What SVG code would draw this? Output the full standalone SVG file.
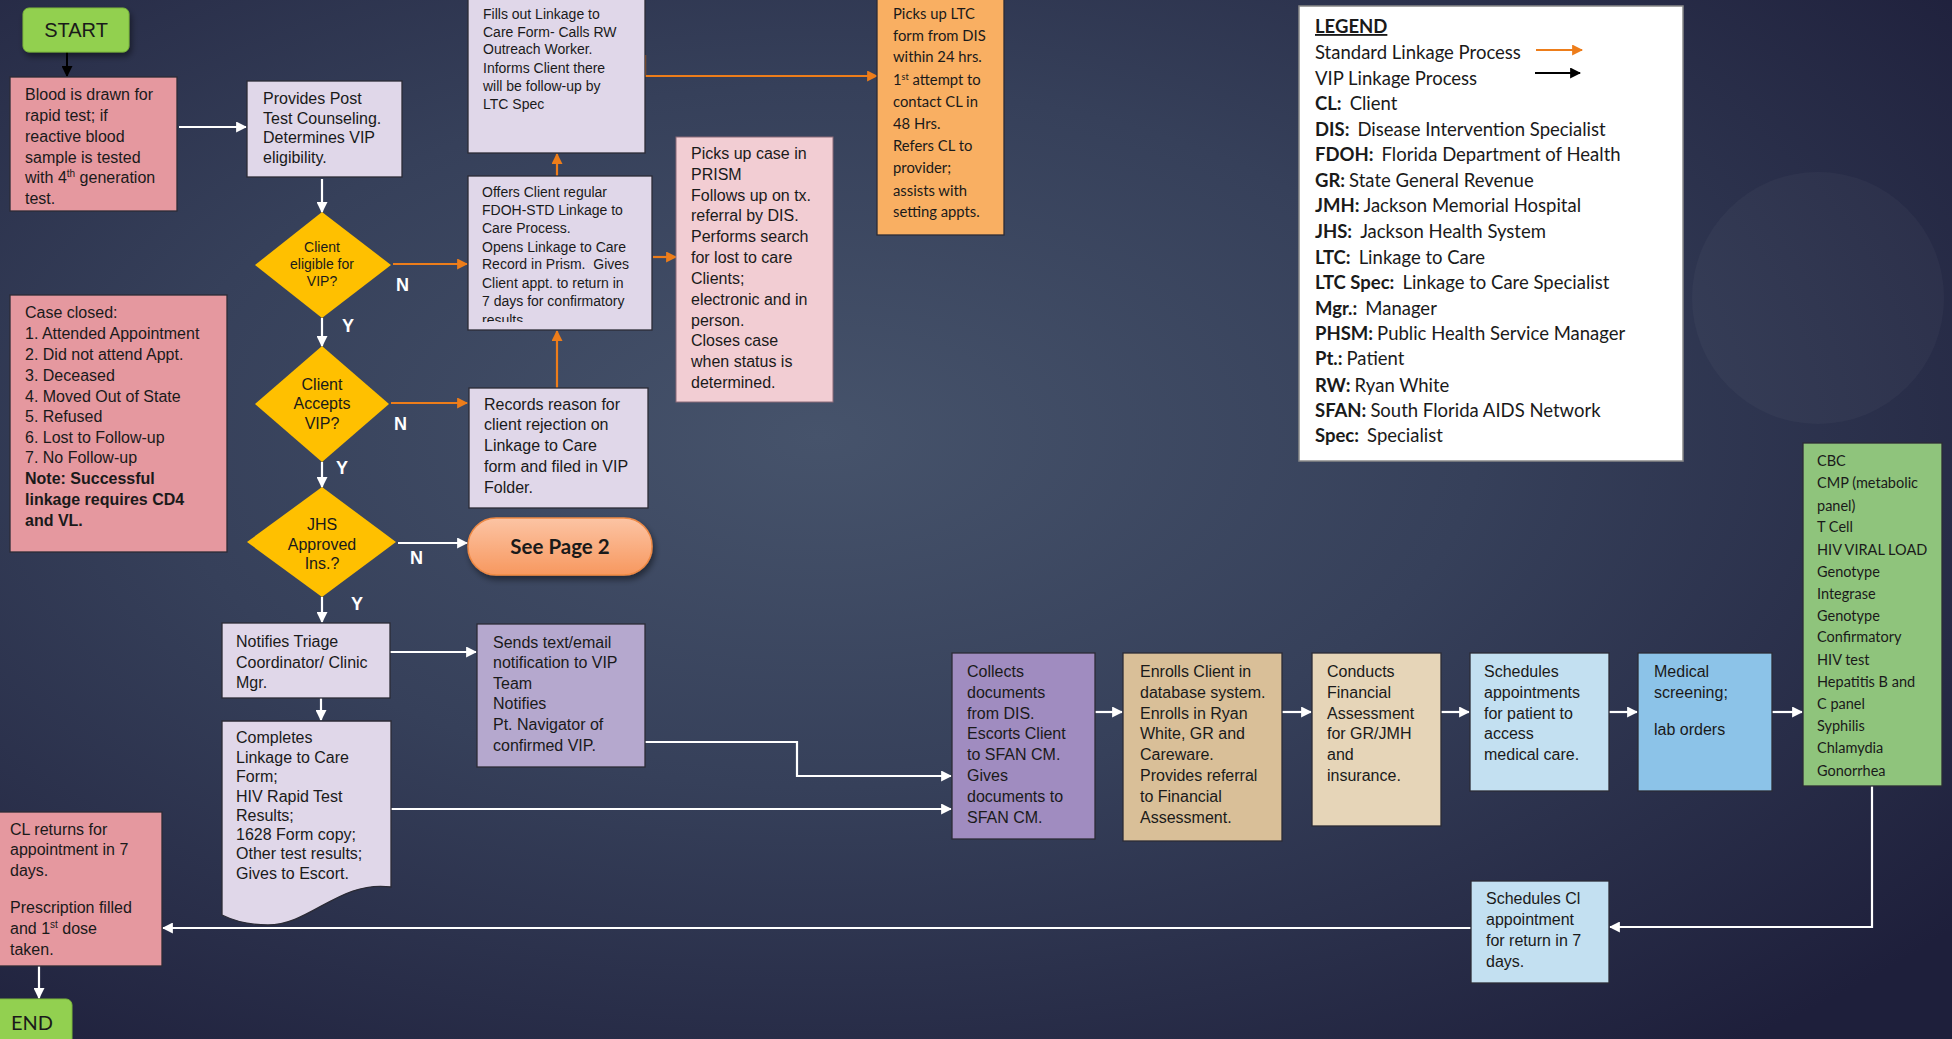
<svg xmlns="http://www.w3.org/2000/svg" width="1952" height="1039" viewBox="0 0 1952 1039">
<defs>
<radialGradient id="bg" cx="0.42" cy="0.42" r="0.75" fx="0.42" fy="0.42">
<stop offset="0" stop-color="#46536b"/>
<stop offset="0.45" stop-color="#36405a"/>
<stop offset="1" stop-color="#1e1f3b"/>
</radialGradient>
<linearGradient id="pill" x1="0" y1="0" x2="0" y2="1">
<stop offset="0" stop-color="#fcc4a4"/>
<stop offset="1" stop-color="#f7985f"/>
</linearGradient>
<filter id="sh" x="-20%" y="-20%" width="140%" height="150%">
<feDropShadow dx="2" dy="4" stdDeviation="3" flood-color="#000" flood-opacity="0.45"/>
</filter>
<marker id="aw" viewBox="0 0 10 10" refX="9" refY="5" markerWidth="11" markerHeight="11" markerUnits="userSpaceOnUse" orient="auto">
<path d="M0,0 L10,5 L0,10 Z" fill="#ffffff"/>
</marker>
<marker id="ao" viewBox="0 0 10 10" refX="9" refY="5" markerWidth="11" markerHeight="11" markerUnits="userSpaceOnUse" orient="auto">
<path d="M0,0 L10,5 L0,10 Z" fill="#ed7d1a"/>
</marker>
<marker id="ak" viewBox="0 0 10 10" refX="9" refY="5" markerWidth="11" markerHeight="11" markerUnits="userSpaceOnUse" orient="auto">
<path d="M0,0 L10,5 L0,10 Z" fill="#000000"/>
</marker>
<clipPath id="offclip"><rect x="468" y="176" width="184" height="146"/></clipPath>
</defs>
<style>
.t{font-family:"Liberation Sans",Arial,sans-serif;font-size:16px;fill:#1a1a1a}
.t14{font-family:"Liberation Sans",Arial,sans-serif;font-size:14px;fill:#1a1a1a;white-space:pre}
.c{font-family:Lato,"Open Sans",sans-serif;fill:#1a1a1a}
.lg{font-family:Lato,"Open Sans",sans-serif;fill:#1a1a1a;font-size:18.5px}
.bx{stroke:#2b2b36;stroke-width:1.3}
.w{stroke:#ffffff;stroke-width:2.2;fill:none}
.o{stroke:#ed7d1a;stroke-width:2.2;fill:none}
.lbl{font-family:"Liberation Sans",Arial,sans-serif;font-size:18px;font-weight:bold;fill:#ffffff}
.b{font-weight:bold}
</style>
<rect x="0" y="0" width="1952" height="1039" fill="url(#bg)"/>
<circle cx="1818" cy="298" r="126" fill="#ffffff" fill-opacity="0.03"/>

<g id="connectors">
<line x1="67" y1="52" x2="67" y2="76" stroke="#000" stroke-width="2" marker-end="url(#ak)"/>
<line class="w" x1="179" y1="127" x2="246" y2="127" marker-end="url(#aw)"/>
<line class="w" x1="322" y1="179" x2="322" y2="212" marker-end="url(#aw)"/>
<line class="o" x1="393" y1="264" x2="467" y2="264" marker-end="url(#ao)"/>
<line class="w" x1="322" y1="318" x2="322" y2="346" marker-end="url(#aw)"/>
<line class="o" x1="391" y1="403" x2="467" y2="403" marker-end="url(#ao)"/>
<line class="w" x1="322" y1="462" x2="322" y2="487" marker-end="url(#aw)"/>
<line class="w" x1="398" y1="543" x2="467" y2="543" marker-end="url(#aw)"/>
<line class="w" x1="322" y1="597" x2="322" y2="622" marker-end="url(#aw)"/>
<line class="o" x1="557" y1="389" x2="557" y2="331" marker-end="url(#ao)"/>
<line class="o" x1="557" y1="176" x2="557" y2="154" marker-end="url(#ao)"/>
<line class="o" x1="653" y1="257" x2="676" y2="257" marker-end="url(#ao)"/>
<path class="o" d="M645,55 V76 H877" marker-end="url(#ao)"/>
<line class="w" x1="390" y1="652" x2="476" y2="652" marker-end="url(#aw)"/>
<line class="w" x1="321" y1="698" x2="321" y2="720" marker-end="url(#aw)"/>
<path class="w" d="M645,742 H797 V776 H951" marker-end="url(#aw)"/>
<line class="w" x1="391" y1="809" x2="951" y2="809" marker-end="url(#aw)"/>
<line class="w" x1="1095" y1="712" x2="1122" y2="712" marker-end="url(#aw)"/>
<line class="w" x1="1282" y1="712" x2="1311" y2="712" marker-end="url(#aw)"/>
<line class="w" x1="1441" y1="712" x2="1469" y2="712" marker-end="url(#aw)"/>
<line class="w" x1="1609" y1="712" x2="1637" y2="712" marker-end="url(#aw)"/>
<line class="w" x1="1772" y1="712" x2="1802" y2="712" marker-end="url(#aw)"/>
<path class="w" d="M1872,786 V927 H1610" marker-end="url(#aw)"/>
<line class="w" x1="1471" y1="928" x2="163" y2="928" marker-end="url(#aw)"/>
<line class="w" x1="39" y1="966" x2="39" y2="998" marker-end="url(#aw)"/>
<text class="lbl" x="396" y="291">N</text>
<text class="lbl" x="342" y="332">Y</text>
<text class="lbl" x="394" y="430">N</text>
<text class="lbl" x="336" y="474">Y</text>
<text class="lbl" x="410" y="564">N</text>
<text class="lbl" x="351" y="610">Y</text>
</g>

<g id="start">
<rect x="23" y="8" width="106" height="44" rx="6" fill="#92d050" stroke="#7cb83a" stroke-width="1" filter="url(#sh)"/>
<text x="76" y="37" text-anchor="middle" style="font-family:'Liberation Sans',Arial,sans-serif;font-size:20px;fill:#1a1a1a">START</text>
</g>

<g id="blood">
<rect class="bx" x="10" y="77" width="167" height="134" fill="#e5989f"/>
<text class="t" x="25" y="100">Blood is drawn for</text>
<text class="t" x="25" y="121">rapid test; if</text>
<text class="t" x="25" y="142">reactive blood</text>
<text class="t" x="25" y="163">sample is tested</text>
<text class="t" x="25" y="183">with 4<tspan dy="-6" font-size="10">th</tspan><tspan dy="6"> generation</tspan></text>
<text class="t" x="25" y="204">test.</text>
</g>

<g id="post-test">
<rect class="bx" x="247" y="81" width="155" height="96" fill="#e0d7e9"/>
<text class="t" x="263" y="104">Provides Post</text>
<text class="t" x="263" y="124">Test Counseling.</text>
<text class="t" x="263" y="143">Determines VIP</text>
<text class="t" x="263" y="163">eligibility.</text>
</g>

<g id="dec-eligible">
<path d="M322,212 L391,265 L322,318 L255,265 Z" fill="#ffc000"/>
<text class="t14" x="322" y="252" text-anchor="middle">Client</text>
<text class="t14" x="322" y="269" text-anchor="middle">eligible for</text>
<text class="t14" x="322" y="286" text-anchor="middle">VIP?</text>
</g>

<g id="dec-accepts">
<path d="M322,346 L389,404 L322,462 L255,404 Z" fill="#ffc000"/>
<text class="t" x="322" y="390" text-anchor="middle">Client</text>
<text class="t" x="322" y="409" text-anchor="middle">Accepts</text>
<text class="t" x="322" y="429" text-anchor="middle">VIP?</text>
</g>

<g id="dec-jhs">
<path d="M322,487 L396,542 L322,597 L247,542 Z" fill="#ffc000"/>
<text class="t" x="322" y="530" text-anchor="middle">JHS</text>
<text class="t" x="322" y="550" text-anchor="middle">Approved</text>
<text class="t" x="322" y="569" text-anchor="middle">Ins.?</text>
</g>

<g id="case-closed">
<rect class="bx" x="10" y="295" width="217" height="257" fill="#e5989f"/>
<text class="t" x="25" y="318">Case closed:</text>
<text class="t" x="25" y="339">1. Attended Appointment</text>
<text class="t" x="25" y="360">2. Did not attend Appt.</text>
<text class="t" x="25" y="381">3. Deceased</text>
<text class="t" x="25" y="402">4. Moved Out of State</text>
<text class="t" x="25" y="422">5. Refused</text>
<text class="t" x="25" y="443">6. Lost to Follow-up</text>
<text class="t" x="25" y="463">7. No Follow-up</text>
<text class="t b" x="25" y="484">Note: Successful</text>
<text class="t b" x="25" y="505">linkage requires CD4</text>
<text class="t b" x="25" y="526">and VL.</text>
</g>

<g id="fills-out">
<rect class="bx" x="468" y="-2" width="177" height="155" fill="#e0d7e9"/>
<text class="t14" x="483" y="19">Fills out Linkage to</text>
<text class="t14" x="483" y="37">Care Form- Calls RW</text>
<text class="t14" x="483" y="54">Outreach Worker.</text>
<text class="t14" x="483" y="73">Informs Client there</text>
<text class="t14" x="483" y="91">will be follow-up by</text>
<text class="t14" x="483" y="109">LTC Spec</text>
</g>

<g id="offers">
<rect class="bx" x="468" y="176" width="184" height="154" fill="#e0d7e9"/>
<g clip-path="url(#offclip)">
<text class="t14" x="482" y="197">Offers Client regular</text>
<text class="t14" x="482" y="215">FDOH-STD Linkage to</text>
<text class="t14" x="482" y="233">Care Process.</text>
<text class="t14" x="482" y="252">Opens Linkage to Care</text>
<text class="t14" x="482" y="269">Record in Prism.  Gives</text>
<text class="t14" x="482" y="288">Client appt. to return in</text>
<text class="t14" x="482" y="306">7 days for confirmatory</text>
<text class="t14" x="482" y="325">results</text>
</g>
</g>

<g id="records">
<rect class="bx" x="469" y="388" width="179" height="120" fill="#e0d7e9"/>
<text class="t" x="484" y="410">Records reason for</text>
<text class="t" x="484" y="430">client rejection on</text>
<text class="t" x="484" y="451">Linkage to Care</text>
<text class="t" x="484" y="472">form and filed in VIP</text>
<text class="t" x="484" y="493">Folder.</text>
</g>

<g id="see-page-2">
<rect x="468" y="518" width="184" height="57" rx="28" fill="url(#pill)" stroke="#ef8a45" stroke-width="1.5" filter="url(#sh)"/>
<text x="560" y="554" text-anchor="middle" class="c b" font-size="20.5">See Page 2</text>
</g>

<g id="picks-prism">
<rect x="676" y="137" width="157" height="265" fill="#f2cdd3" stroke="#8a6a78" stroke-width="1"/>
<text class="t" x="691" y="159">Picks up case in</text>
<text class="t" x="691" y="180">PRISM</text>
<text class="t" x="691" y="201">Follows up on tx.</text>
<text class="t" x="691" y="221">referral by DIS.</text>
<text class="t" x="691" y="242">Performs search</text>
<text class="t" x="691" y="263">for lost to care</text>
<text class="t" x="691" y="284">Clients;</text>
<text class="t" x="691" y="305">electronic and in</text>
<text class="t" x="691" y="326">person.</text>
<text class="t" x="691" y="346">Closes case</text>
<text class="t" x="691" y="367">when status is</text>
<text class="t" x="691" y="388">determined.</text>
</g>

<g id="picks-ltc">
<rect class="bx" x="877" y="-2" width="127" height="237" fill="#f9af62"/>
<text class="c" font-size="14.8" x="893" y="19">Picks up LTC</text>
<text class="c" font-size="14.8" x="893" y="41">form from DIS</text>
<text class="c" font-size="14.8" x="893" y="62">within 24 hrs.</text>
<text class="c" font-size="14.8" x="893" y="85">1<tspan dy="-5" font-size="9">st</tspan><tspan dy="5"> attempt to</tspan></text>
<text class="c" font-size="14.8" x="893" y="107">contact CL in</text>
<text class="c" font-size="14.8" x="893" y="129">48 Hrs.</text>
<text class="c" font-size="14.8" x="893" y="151">Refers CL to</text>
<text class="c" font-size="14.8" x="893" y="173">provider;</text>
<text class="c" font-size="14.8" x="893" y="196">assists with</text>
<text class="c" font-size="14.8" x="893" y="217">setting appts.</text>
</g>

<g id="legend">
<rect x="1299" y="6" width="384" height="455" fill="#ffffff" stroke="#888" stroke-width="1.5"/>
<text class="lg b" x="1315" y="33" text-decoration="underline">LEGEND</text>
<text class="lg" x="1315" y="59">Standard Linkage Process</text>
<text class="lg" x="1315" y="85">VIP Linkage Process</text>
<line x1="1536" y1="50" x2="1582" y2="50" stroke="#ed7d1a" stroke-width="2" marker-end="url(#ao)"/>
<line x1="1535" y1="73" x2="1580" y2="73" stroke="#000" stroke-width="2" marker-end="url(#ak)"/>
<text class="lg" x="1315" y="110"><tspan class="b">CL:</tspan><tspan dx="8">Client</tspan></text>
<text class="lg" x="1315" y="136"><tspan class="b">DIS:</tspan><tspan dx="8">Disease Intervention Specialist</tspan></text>
<text class="lg" x="1315" y="161"><tspan class="b">FDOH:</tspan><tspan dx="8">Florida Department of Health</tspan></text>
<text class="lg" x="1315" y="187"><tspan class="b">GR:</tspan><tspan dx="4">State General Revenue</tspan></text>
<text class="lg" x="1315" y="212"><tspan class="b">JMH:</tspan><tspan dx="4">Jackson Memorial Hospital</tspan></text>
<text class="lg" x="1315" y="238"><tspan class="b">JHS:</tspan><tspan dx="8">Jackson Health System</tspan></text>
<text class="lg" x="1315" y="264"><tspan class="b">LTC:</tspan><tspan dx="8">Linkage to Care</tspan></text>
<text class="lg" x="1315" y="289"><tspan class="b">LTC Spec:</tspan><tspan dx="8">Linkage to Care Specialist</tspan></text>
<text class="lg" x="1315" y="315"><tspan class="b">Mgr.:</tspan><tspan dx="8">Manager</tspan></text>
<text class="lg" x="1315" y="340"><tspan class="b">PHSM:</tspan><tspan dx="4">Public Health Service Manager</tspan></text>
<text class="lg" x="1315" y="365"><tspan class="b">Pt.:</tspan><tspan dx="4">Patient</tspan></text>
<text class="lg" x="1315" y="392"><tspan class="b">RW:</tspan><tspan dx="4">Ryan White</tspan></text>
<text class="lg" x="1315" y="417"><tspan class="b">SFAN:</tspan><tspan dx="4">South Florida AIDS Network</tspan></text>
<text class="lg" x="1315" y="442"><tspan class="b">Spec:</tspan><tspan dx="8">Specialist</tspan></text>
</g>

<g id="notifies">
<rect class="bx" x="222" y="623" width="168" height="75" fill="#e0d7e9"/>
<text class="t" x="236" y="647">Notifies Triage</text>
<text class="t" x="236" y="668">Coordinator/ Clinic</text>
<text class="t" x="236" y="688">Mgr.</text>
</g>

<g id="sends">
<rect class="bx" x="477" y="624" width="168" height="143" fill="#b5a8ce"/>
<text class="t" x="493" y="648">Sends text/email</text>
<text class="t" x="493" y="668">notification to VIP</text>
<text class="t" x="493" y="689">Team</text>
<text class="t" x="493" y="709">Notifies</text>
<text class="t" x="493" y="730">Pt. Navigator of</text>
<text class="t" x="493" y="751">confirmed VIP.</text>
</g>

<g id="completes">
<path class="bx" d="M222,721 H391 V887 C340,880 310,925 268,925 C248,925 232,920 222,915 Z" fill="#e0d7e9"/>
<text class="t" x="236" y="743">Completes</text>
<text class="t" x="236" y="763">Linkage to Care</text>
<text class="t" x="236" y="782">Form;</text>
<text class="t" x="236" y="802">HIV Rapid Test</text>
<text class="t" x="236" y="821">Results;</text>
<text class="t" x="236" y="840">1628 Form copy;</text>
<text class="t" x="236" y="859">Other test results;</text>
<text class="t" x="236" y="879">Gives to Escort.</text>
</g>

<g id="cl-returns">
<rect class="bx" x="-2" y="812" width="164" height="154" fill="#e5989f"/>
<text class="t" x="10" y="835">CL returns for</text>
<text class="t" x="10" y="855">appointment in 7</text>
<text class="t" x="10" y="876">days.</text>
<text class="t" x="10" y="913">Prescription filled</text>
<text class="t" x="10" y="934">and 1<tspan dy="-6" font-size="10">st</tspan><tspan dy="6"> dose</tspan></text>
<text class="t" x="10" y="955">taken.</text>
</g>

<g id="end">
<rect x="-6" y="999" width="78" height="50" rx="6" fill="#92d050" stroke="#7cb83a" stroke-width="1"/>
<text x="11" y="1030" class="c" font-size="20">END</text>
</g>

<g id="collects">
<rect class="bx" x="952" y="653" width="143" height="186" fill="#a08cc0"/>
<text class="t" x="967" y="677">Collects</text>
<text class="t" x="967" y="698">documents</text>
<text class="t" x="967" y="719">from DIS.</text>
<text class="t" x="967" y="739">Escorts Client</text>
<text class="t" x="967" y="760">to SFAN CM.</text>
<text class="t" x="967" y="781">Gives</text>
<text class="t" x="967" y="802">documents to</text>
<text class="t" x="967" y="823">SFAN CM.</text>
</g>

<g id="enrolls">
<rect class="bx" x="1123" y="653" width="159" height="188" fill="#d9bf98"/>
<text class="t" x="1140" y="677">Enrolls Client in</text>
<text class="t" x="1140" y="698">database system.</text>
<text class="t" x="1140" y="719">Enrolls in Ryan</text>
<text class="t" x="1140" y="739">White, GR and</text>
<text class="t" x="1140" y="760">Careware.</text>
<text class="t" x="1140" y="781">Provides referral</text>
<text class="t" x="1140" y="802">to Financial</text>
<text class="t" x="1140" y="823">Assessment.</text>
</g>

<g id="financial">
<rect class="bx" x="1312" y="653" width="129" height="173" fill="#e6d5b8"/>
<text class="t" x="1327" y="677">Conducts</text>
<text class="t" x="1327" y="698">Financial</text>
<text class="t" x="1327" y="719">Assessment</text>
<text class="t" x="1327" y="739">for GR/JMH</text>
<text class="t" x="1327" y="760">and</text>
<text class="t" x="1327" y="781">insurance.</text>
</g>

<g id="schedules-appts">
<rect class="bx" x="1470" y="653" width="139" height="138" fill="#c3e0f1"/>
<text class="t" x="1484" y="677">Schedules</text>
<text class="t" x="1484" y="698">appointments</text>
<text class="t" x="1484" y="719">for patient to</text>
<text class="t" x="1484" y="739">access</text>
<text class="t" x="1484" y="760">medical care.</text>
</g>

<g id="medical">
<rect class="bx" x="1638" y="653" width="134" height="138" fill="#8cc3e8"/>
<text class="t" x="1654" y="677">Medical</text>
<text class="t" x="1654" y="698">screening;</text>
<text class="t" x="1654" y="735">lab orders</text>
</g>

<g id="labs">
<rect class="bx" x="1803" y="443" width="139" height="343" fill="#8fc47c"/>
<text class="c" font-size="14.5" x="1817" y="466">CBC</text>
<text class="c" font-size="14.5" x="1817" y="488">CMP (metabolic</text>
<text class="c" font-size="14.5" x="1817" y="511">panel)</text>
<text class="c" font-size="14.5" x="1817" y="532">T Cell</text>
<text class="c" font-size="14.5" x="1817" y="555">HIV VIRAL LOAD</text>
<text class="c" font-size="14.5" x="1817" y="577">Genotype</text>
<text class="c" font-size="14.5" x="1817" y="599">Integrase</text>
<text class="c" font-size="14.5" x="1817" y="621">Genotype</text>
<text class="c" font-size="14.5" x="1817" y="642">Confirmatory</text>
<text class="c" font-size="14.5" x="1817" y="665">HIV test</text>
<text class="c" font-size="14.5" x="1817" y="687">Hepatitis B and</text>
<text class="c" font-size="14.5" x="1817" y="709">C panel</text>
<text class="c" font-size="14.5" x="1817" y="731">Syphilis</text>
<text class="c" font-size="14.5" x="1817" y="753">Chlamydia</text>
<text class="c" font-size="14.5" x="1817" y="776">Gonorrhea</text>
</g>

<g id="schedules-return">
<rect class="bx" x="1471" y="881" width="138" height="102" fill="#c3e0f1"/>
<text class="t" x="1486" y="904">Schedules Cl</text>
<text class="t" x="1486" y="925">appointment</text>
<text class="t" x="1486" y="946">for return in 7</text>
<text class="t" x="1486" y="967">days.</text>
</g>
</svg>
